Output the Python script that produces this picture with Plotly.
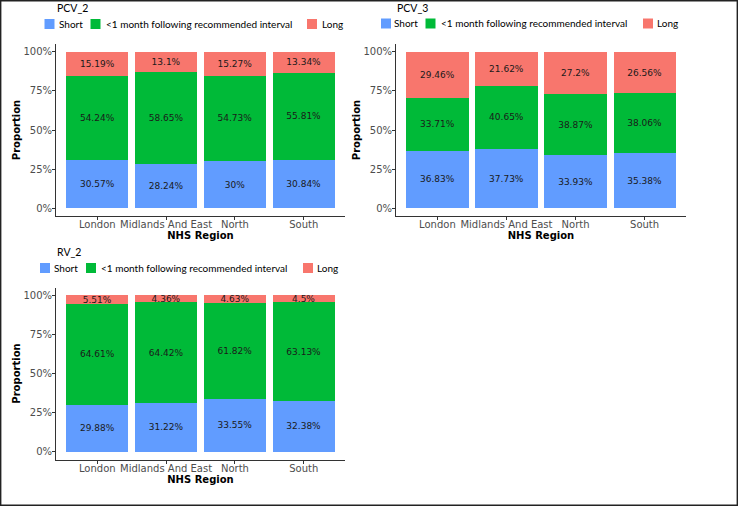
import plotly.graph_objects as go

regions = ["London", "Midlands And East", "North", "South"]
series_names = ["Short", "<1 month following recommended interval", "Long"]
colors = ["#619CFF", "#00BA38", "#F8766D"]

pcv2_short = [30.57, 28.24, 30, 30.84]
pcv2_mid = [54.24, 58.65, 54.73, 55.81]
pcv2_long = [15.19, 13.1, 15.27, 13.34]

pcv3_short = [36.83, 37.73, 33.93, 35.38]
pcv3_mid = [33.71, 40.65, 38.87, 38.06]
pcv3_long = [29.46, 21.62, 27.2, 26.56]

rv2_short = [29.88, 31.22, 33.55, 32.38]
rv2_mid = [64.61, 64.42, 61.82, 63.13]
rv2_long = [5.51, 4.36, 4.63, 4.5]

y_ticks = [0, 0.25, 0.5, 0.75, 1.0]
y_tick_labels = ["0%", "25%", "50%", "75%", "100%"]

W, H = 738, 506

panels = [
    dict(name="PCV_2", data=[pcv2_short, pcv2_mid, pcv2_long], x=(56, 345), y=(44, 216),
         title_pos=(57, 8), legend_y=24, key_x=[49.5, 95.5, 312], text_x=[59, 106, 322]),
    dict(name="PCV_3", data=[pcv3_short, pcv3_mid, pcv3_long], x=(396, 686), y=(44, 216),
         title_pos=(397, 8), legend_y=23.5, key_x=[386, 430.5, 648], text_x=[394, 441, 657]),
    dict(name="RV_2", data=[rv2_short, rv2_mid, rv2_long], x=(56, 345), y=(287.5, 459.5),
         title_pos=(57, 252), legend_y=268, key_x=[45, 91, 308], text_x=[54, 101, 317]),
]

fig = go.Figure()
layout = {}
annotations = []
shapes = []
for i, p in enumerate(panels):
    ax = "" if i == 0 else str(i + 1)
    ly = p["legend_y"]
    for s, (name, vals, col) in enumerate(zip(series_names, p["data"], colors)):
        fig.add_trace(go.Bar(
            x=regions, y=[v / 100 for v in vals], name=name,
            marker=dict(color=col, line=dict(width=0)),
            text=[f"{v:g}%" for v in vals], textposition="inside", insidetextanchor="middle",
            textangle=0,
            textfont=dict(family="DejaVu Sans", size=9, color="#1a1a1a"),
            xaxis="x" + ax, yaxis="y" + ax, showlegend=False, hoverinfo="skip",
        ))
        kx = p["key_x"][s]
        shapes.append(dict(type="rect", xref="paper", yref="paper",
                           x0=(kx - 5) / W, x1=(kx + 5) / W, y0=1 - (ly + 5) / H, y1=1 - (ly - 5) / H,
                           fillcolor=col, line=dict(width=0)))
        annotations.append(dict(
            text=name, x=p["text_x"][s] / W, y=1 - ly / H, xref="paper", yref="paper",
            xanchor="left", yanchor="middle", showarrow=False, xshift=-2,
            font=dict(family="Lato", size=10, color="black"),
        ))
    x0, x1 = p["x"]
    ytop, ybot = p["y"]
    layout["xaxis" + ax] = dict(
        domain=[x0 / W, x1 / W], anchor="y" + ax, range=[-0.6, 3.6],
        showline=True, linecolor="#333333", linewidth=1,
        ticks="outside", ticklen=3, tickcolor="#333333", tickangle=0, ticklabelstandoff=-4,
        tickfont=dict(family="DejaVu Sans", size=10, color="#4D4D4D"),
        showgrid=False, zeroline=False, automargin=False,
        title=dict(text="<b>NHS Region</b>", font=dict(family="DejaVu Sans", size=10, color="black"), standoff=0),
    )
    layout["yaxis" + ax] = dict(
        domain=[1 - ybot / H, 1 - ytop / H], anchor="x" + ax, range=[-0.05, 1.05],
        tickvals=y_ticks, ticktext=y_tick_labels,
        showline=True, linecolor="#333333", linewidth=1,
        ticks="outside", ticklen=3, tickcolor="#333333", ticklabelstandoff=-2,
        tickfont=dict(family="DejaVu Sans", size=10, color="#4D4D4D"),
        showgrid=False, zeroline=False, automargin=False,
        title=dict(text="<b>Proportion</b>", font=dict(family="DejaVu Sans", size=10, color="black"), standoff=0),
    )
    tx, ty = p["title_pos"]
    annotations.append(dict(
        text=p["name"], x=tx / W, y=1 - ty / H, xref="paper", yref="paper",
        xanchor="left", yanchor="middle", showarrow=False, xshift=-2,
        font=dict(family="Lato", size=10.5, color="black"),
    ))

shapes.append(dict(type="rect", xref="paper", yref="paper", x0=0.7 / W, y0=0.7 / H, x1=1 - 0.7 / W, y1=1 - 0.7 / H,
                   line=dict(color="#222222", width=1.4)))

fig.update_layout(
    width=W, height=H, margin=dict(l=0, r=0, t=0, b=0, pad=0, autoexpand=False),
    paper_bgcolor="white", plot_bgcolor="white", showlegend=False,
    barmode="stack", bargap=0.1, uniformtext=dict(mode="show", minsize=9),
    annotations=annotations, shapes=shapes,
    **layout,
)

fig.write_html("out.html", config={"displayModeBar": False},
               post_script="document.body.style.margin='0';document.body.style.overflow='hidden';")
